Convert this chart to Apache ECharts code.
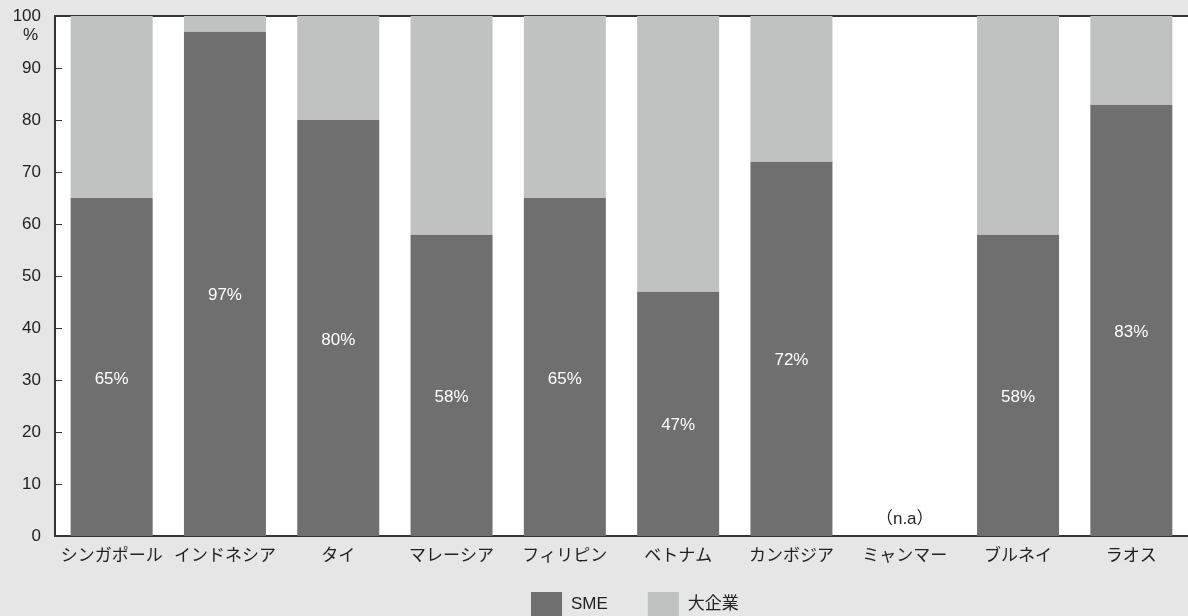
<!DOCTYPE html>
<html>
<head>
<meta charset="utf-8">
<script src="https://cdn.jsdelivr.net/npm/echarts@6/dist/echarts.min.js"></script>
<style>
  html, body { margin: 0; padding: 0; background: #e6e6e6; }
  #chart { width: 1188px; height: 616px; }
</style>
</head>
<body>
<div id="chart"></div>
<script>
// 国別データ (SME比率, %)
let countries = ['シンガポール', 'インドネシア', 'タイ', 'マレーシア', 'フィリピン', 'ベトナム', 'カンボジア', 'ミャンマー', 'ブルネイ', 'ラオス']
let smeShare = [65, 97, 80, 58, 65, 47, 72, null, 58, 83]
let seriesNames = ['SME', '大企業']
let colors = ['#6f6f6f', '#c0c2c1']

let font = '"Liberation Sans", "Noto Sans CJK JP", sans-serif'
let myChart = echarts.init(document.getElementById('chart'))

let smeData = smeShare.map(v => {
  if (v === null) {
    return {
      value: 0,
      label: { show: true, position: 'top', distance: 8, offset: [0, 0], color: '#222', formatter: '（n.a）' }
    }
  }
  return v
})
let largeData = smeShare.map(v => v === null ? '-' : 100 - v)

myChart.setOption({
  backgroundColor: '#e6e6e6',
  textStyle: { fontFamily: font },
  color: colors,
  grid: {
    left: 55, right: 0, top: 16, bottom: 80,
    show: true, backgroundColor: '#fff', borderWidth: 0
  },
  legend: {
    top: 592,
    left: 531,
    padding: 0,
    itemWidth: 31,
    itemHeight: 24,
    itemGap: 40,
    icon: 'rect',
    textStyle: { fontSize: 17, color: '#222', padding: [0, 0, 0, 4] },
    data: seriesNames
  },
  graphic: [
    {
      type: 'text',
      left: 23,
      top: 27,
      style: { text: '%', fontSize: 17, fill: '#222', fontFamily: font }
    }
  ],
  xAxis: [
    {
      type: 'category',
      data: countries,
      axisLine: { lineStyle: { color: '#333', width: 2 } },
      axisTick: { inside: true, length: 8, lineStyle: { color: '#333' } },
      axisLabel: { fontSize: 17, color: '#222', margin: 12, interval: 0 }
    },
    {
      type: 'category',
      position: 'top',
      data: countries,
      axisLine: { lineStyle: { color: '#333', width: 2 } },
      axisTick: { show: false },
      axisLabel: { show: false }
    }
  ],
  yAxis: {
    type: 'value',
    min: 0,
    max: 100,
    interval: 10,
    axisLine: { show: true, lineStyle: { color: '#333', width: 2 } },
    axisTick: { show: true, inside: true, length: 7, lineStyle: { color: '#333' } },
    splitLine: { show: false },
    axisLabel: { fontSize: 17, color: '#222', margin: 14 }
  },
  series: [
    {
      name: seriesNames[0],
      type: 'bar',
      stack: 'total',
      barWidth: 82,
      data: smeData,
      label: {
        show: true,
        position: 'inside',
        offset: [0, 12],
        color: '#fff',
        fontSize: 17,
        formatter: '{c}%'
      }
    },
    {
      name: seriesNames[1],
      type: 'bar',
      stack: 'total',
      barWidth: 82,
      data: largeData
    }
  ]
})
</script>
</body>
</html>
